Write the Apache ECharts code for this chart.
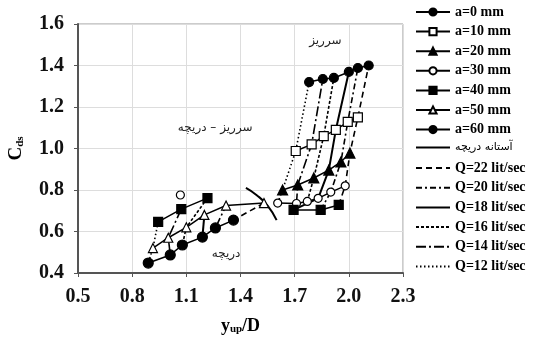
<!DOCTYPE html>
<html>
<head>
<meta charset="utf-8">
<script src="https://cdn.jsdelivr.net/npm/echarts@6/dist/echarts.min.js"></script>
<style>
  html, body { margin: 0; padding: 0; background: #fff; }
  #main { width: 547px; height: 341px; }
</style>
</head>
<body>
<div id="main"></div>
<script>
// axis ticks
var xTicks = [0.5, 0.8, 1.1, 1.4, 1.7, 2.0, 2.3];
var yTicks = [0.4, 0.6, 0.8, 1.0, 1.2, 1.4, 1.6];

// discharge (lit/sec), one point per Q in every gate opening series
var qValues = [12, 14, 16, 18, 20, 22];

// a = 0..30 mm : weir / weir-gate flow (right side)
var a0x = [1.78, 1.856, 1.917, 2.0, 2.05, 2.11];
var a0y = [1.32, 1.335, 1.34, 1.369, 1.388, 1.40];
var a10x = [1.706, 1.794, 1.861, 1.928, 1.994, 2.05];
var a10y = [0.988, 1.02, 1.06, 1.09, 1.128, 1.15];
var a20x = [1.633, 1.717, 1.806, 1.889, 1.956, 2.006];
var a20y = [0.80, 0.824, 0.858, 0.896, 0.935, 0.978];
var a30x = [1.606, 1.71, 1.77, 1.83, 1.9, 1.98];
var a30y = [0.737, 0.735, 0.745, 0.76, 0.79, 0.82];
var a30Lx = [1.067];
var a30Ly = [0.776];

// a = 40 mm : gate flow for low Q, weir-gate for high Q
var a40Lx = [0.944, 1.072, 1.217];
var a40Ly = [0.646, 0.708, 0.761];
var a40Rx = [1.694, 1.844, 1.944];
var a40Ry = [0.704, 0.704, 0.728];

// a = 50, 60 mm : gate flow (left side)
var a50x = [0.915, 1.0, 1.1, 1.2, 1.32, 1.53];
var a50y = [0.52, 0.57, 0.62, 0.68, 0.725, 0.737];
var a60x = [0.889, 1.011, 1.078, 1.189, 1.261, 1.361];
var a60y = [0.448, 0.487, 0.535, 0.573, 0.617, 0.655];

// gate threshold curve
var thrX = [1.43, 1.49, 1.55, 1.6];
var thrY = [0.81, 0.775, 0.725, 0.655];

// text notes inside the plot
var noteText = ['سرریز', 'سرریز – دریچه', 'دریچه'];
var noteX = [1.87, 1.26, 1.32];
var noteY = [1.52, 1.10, 0.49];

function pts(xs, ys) {
    var out = [];
    for (var i = 0; i < xs.length; i++) out.push([xs[i], ys[i]]);
    return out;
}

var serif = 'Liberation Serif';
var chart = echarts.init(document.getElementById('main'));

var aNames = ['a=0 mm', 'a=10 mm', 'a=20 mm', 'a=30 mm', 'a=40 mm', 'a=50 mm', 'a=60 mm'];
var aSym = ['circle', 'rect', 'triangle', 'circle', 'rect', 'triangle', 'circle'];
var aFill = ['#000', '#fff', '#000', '#fff', '#000', '#fff', '#000'];
var aSize = [9, 9, 10, 8, 9, 9, 10];

function aSeries(i, data) {
    return {
        name: aNames[i], type: 'line', data: data, z: 5,
        symbol: aSym[i], symbolSize: aSize[i],
        itemStyle: { color: aFill[i], borderColor: '#000', borderWidth: 1.2 },
        lineStyle: { color: '#000', width: 1.5 }
    };
}

var qNames = qValues.map(function (q) { return 'Q=' + q + ' lit/sec'; });
var qDash = {
    12: [1.5, 2.5],
    14: [10, 3, 2, 3],
    16: [3, 2],
    18: 'solid',
    20: [6, 3, 2, 3],
    22: [6, 4]
};

function qSeries(k, data) {
    var q = qValues[k];
    return {
        name: qNames[k], type: 'line', data: data, z: 3,
        symbol: 'none', silent: true,
        itemStyle: { color: '#000' },
        lineStyle: { color: '#000', width: q === 18 ? 2 : 1.6, type: qDash[q] }
    };
}

var series = [];
series.push(aSeries(0, pts(a0x, a0y)));
series.push(aSeries(1, pts(a10x, a10y)));
series.push(aSeries(2, pts(a20x, a20y)));
series.push(aSeries(3, pts(a30x, a30y)));
series.push(aSeries(3, pts(a30Lx, a30Ly)));
series.push(aSeries(4, pts(a40Lx, a40Ly)));
series.push(aSeries(4, pts(a40Rx, a40Ry)));
series.push(aSeries(5, pts(a50x, a50y)));
series.push(aSeries(6, pts(a60x, a60y)));

series.push({
    name: 'آستانه دریچه', type: 'line', data: pts(thrX, thrY), smooth: true,
    symbol: 'none', z: 4, itemStyle: { color: '#000' },
    lineStyle: { color: '#000', width: 2 },
    markPoint: {
        symbolSize: 0,
        data: noteText.map(function (t, i) {
            return {
                coord: [noteX[i], noteY[i]],
                label: { show: true, formatter: t, color: '#222', fontSize: 12, fontFamily: 'DejaVu Sans' }
            };
        })
    }
});

// Q lines: right side runs a=40/30 -> 20 -> 10 -> 0, left side a=40 -> 50 -> 60
for (var k = 0; k < qValues.length; k++) {
    var right = [];
    if (k >= 3) right.push([a40Rx[k - 3], a40Ry[k - 3]]);
    right.push([a30x[k], a30y[k]], [a20x[k], a20y[k]], [a10x[k], a10y[k]], [a0x[k], a0y[k]]);
    series.push(qSeries(k, right));
    var left = [];
    if (k < 3) left.push([a40Lx[k], a40Ly[k]]);
    left.push([a50x[k], a50y[k]], [a60x[k], a60y[k]]);
    series.push(qSeries(k, left));
}

var legendText = { fontFamily: serif, fontWeight: 'bold', fontSize: 14, lineHeight: 14, color: '#000' };
var noSymbol = { opacity: 0 };

var option = {
    animation: false,
    backgroundColor: '#fff',
    grid: {
        left: 78, right: 144, top: 24, bottom: 68, containLabel: false, outerBoundsMode: 'none',
        show: true, borderColor: '#999', borderWidth: 1
    },
    legend: [{
        data: aNames, orient: 'vertical', left: 410, top: 0,
        itemWidth: 34, itemHeight: 9, itemGap: 5.6, textStyle: legendText
    }, {
        data: [{ name: 'آستانه دریچه', itemStyle: noSymbol }], orient: 'vertical', left: 410, top: 137,
        itemWidth: 34, itemHeight: 9, textStyle: { fontFamily: 'DejaVu Sans', fontSize: 11, color: '#000' }
    }, {
        data: qNames.slice().reverse().map(function (n) { return { name: n, itemStyle: noSymbol }; }),
        orient: 'vertical', left: 410, top: 156,
        itemWidth: 34, itemHeight: 9, itemGap: 5.7, textStyle: legendText
    }],
    xAxis: {
        type: 'value', min: 0.5, max: 2.3, interval: 0.3,
        name: '{b|y}{s|up}{b|/D}', nameLocation: 'middle', nameGap: 44,
        nameTextStyle: {
            rich: {
                b: { fontFamily: serif, fontWeight: 'bold', fontSize: 18, color: '#000' },
                s: { fontFamily: serif, fontWeight: 'bold', fontSize: 11, color: '#000', verticalAlign: 'bottom', padding: [6, 0, 0, 0] }
            }
        },
        axisLine: { show: true, lineStyle: { color: '#555', width: 2 } },
        axisTick: { show: true, length: 4, lineStyle: { color: '#555' } },
        axisLabel: {
            fontFamily: serif, fontWeight: 'bold', fontSize: 20, color: '#111', margin: 14,
            formatter: function (v) { return v.toFixed(1); }
        },
        splitLine: { lineStyle: { color: '#ddd' } }
    },
    yAxis: {
        type: 'value', min: 0.4, max: 1.6, interval: 0.2,
        name: '{b|C}{s|ds}', nameLocation: 'middle', nameGap: 52, nameRotate: 90,
        nameTextStyle: {
            rich: {
                b: { fontFamily: serif, fontWeight: 'bold', fontSize: 19, color: '#000' },
                s: { fontFamily: serif, fontWeight: 'bold', fontSize: 11, color: '#000', verticalAlign: 'bottom', padding: [6, 0, 0, 0] }
            }
        },
        axisLine: { show: true, lineStyle: { color: '#555', width: 2 } },
        axisTick: { show: true, length: 4, lineStyle: { color: '#555' } },
        axisLabel: {
            fontFamily: serif, fontWeight: 'bold', fontSize: 20, color: '#111', margin: 14,
            formatter: function (v) { return v.toFixed(1); }
        },
        splitLine: { lineStyle: { color: '#ddd' } }
    },
    series: series
};

chart.setOption(option);
</script>
</body>
</html>
